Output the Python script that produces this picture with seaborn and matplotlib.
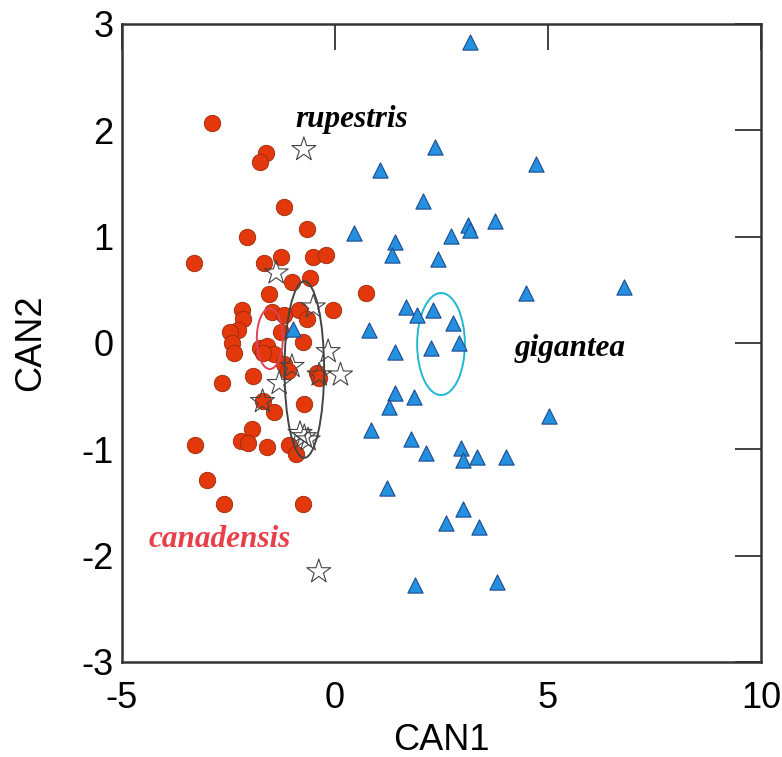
import pandas as pd
import seaborn as sns
import matplotlib.pyplot as plt
from matplotlib.patches import Ellipse

# canonical scores
can_x = [-2.88, -1.63, -1.77, -1.20, -0.66, -2.07, -3.32, -1.67, -1.27, -0.52, -0.20, -0.59, -1.00,
         0.73, -1.56, -2.19, -2.15, -1.48, -1.19, -0.84, -0.66, -0.05, -2.27, -2.46, -1.27, -0.74,
         -2.42, -1.76, -1.60, -2.37, -1.42, -1.70, -1.19, -1.11, -0.42, -0.38, -1.93, -2.66, -1.70,
         -1.42, -0.72, -1.95, -2.21, -2.03, -1.60, -1.09, -0.92, -3.28, -3.00, -2.61, -0.76]
can_y = [2.07, 1.79, 1.70, 1.28, 1.07, 1.00, 0.75, 0.75, 0.81, 0.81, 0.83, 0.61, 0.57,
         0.47, 0.46, 0.31, 0.23, 0.29, 0.26, 0.31, 0.23, 0.31, 0.12, 0.10, 0.10, 0.01,
         0.00, -0.05, -0.03, -0.09, -0.10, -0.09, -0.20, -0.26, -0.28, -0.33, -0.31, -0.38, -0.55,
         -0.65, -0.57, -0.81, -0.92, -0.94, -0.98, -0.96, -1.04, -0.96, -1.29, -1.51, -1.51]

rup_x = [-0.73, -1.38, -0.51, -0.16, -1.01, -1.31, -0.37, 0.13, -1.70, -0.82, -0.63, -0.72, -0.38]
rup_y = [1.82, 0.66, 0.34, -0.08, -0.22, -0.38, -0.30, -0.30, -0.55, -0.85, -0.91, -0.88, -2.15]

gig_x = [3.17, 2.35, 1.06, 4.73, 2.07, 0.45, 1.42, 1.35, 2.72, 3.13, 3.17, 3.75, 2.43, 4.48,
         1.66, 1.92, 2.30, 0.79, 2.78, 1.42, 2.26, 2.92, 1.41, 1.85, 1.27, 5.02, 0.85, 1.78,
         2.14, 2.95, 3.01, 3.34, 4.01, 1.23, 3.00, 2.61, 3.38, 1.89, 3.81, 6.78, -0.98]
gig_y = [2.83, 1.84, 1.63, 1.68, 1.34, 1.03, 0.95, 0.83, 1.01, 1.11, 1.06, 1.15, 0.79, 0.47,
         0.34, 0.26, 0.31, 0.12, 0.19, -0.08, -0.05, 0.00, -0.47, -0.51, -0.60, -0.69, -0.82, -0.90,
         -1.03, -0.99, -1.10, -1.07, -1.07, -1.36, -1.56, -1.69, -1.73, -2.28, -2.25, 0.53, 0.13]

# group centroid ellipses: center x, center y, width, height
ell_can = (-1.53, 0.04, 0.61, 0.57)
ell_rup = (-0.72, -0.25, 0.93, 1.66)
ell_gig = (2.49, -0.01, 1.12, 0.96)

df_can = pd.DataFrame({'CAN1': can_x, 'CAN2': can_y})
df_rup = pd.DataFrame({'CAN1': rup_x, 'CAN2': rup_y})
df_gig = pd.DataFrame({'CAN1': gig_x, 'CAN2': gig_y})

sns.set_style("white")
plt.rcParams['font.family'] = ['Liberation Sans', 'DejaVu Sans']
plt.rcParams['axes.unicode_minus'] = False
plt.rcParams['text.color'] = 'black'
plt.rcParams['axes.labelcolor'] = 'black'
plt.rcParams['xtick.labelcolor'] = 'black'
plt.rcParams['ytick.labelcolor'] = 'black'

fig = plt.figure(figsize=(7.82, 7.57), dpi=100)
ax = fig.add_axes([0.156, 0.1255, 0.817, 0.8428])

sns.scatterplot(data=df_can, x='CAN1', y='CAN2', ax=ax, marker='o', s=140,
                color='#e2380c', edgecolor='#9a2a0a', linewidth=0.6, zorder=2)

for (cx, cy, w, h), col in [(ell_can, '#e0405a'), (ell_rup, '#444444'), (ell_gig, '#20b8d0')]:
    ax.add_patch(Ellipse((cx, cy), w, h, fill=False, edgecolor=col, linewidth=1.4, zorder=3))

sns.scatterplot(data=df_gig, x='CAN1', y='CAN2', ax=ax, marker='^', s=120,
                color='#2490e0', edgecolor='#1f4a90', linewidth=0.8, zorder=4)
sns.scatterplot(data=df_rup, x='CAN1', y='CAN2', ax=ax, marker='*', s=330,
                color='none', edgecolor='#444444', linewidth=0.8, zorder=5)

ax.text(0.40, 2.10, 'rupestris', family='Liberation Serif', style='italic', weight='bold',
        fontsize=22.5, ha='center', va='center', color='black')
ax.text(5.52, -0.05, 'gigantea', family='Liberation Serif', style='italic', weight='bold',
        fontsize=22.5, ha='center', va='center', color='black')
ax.text(-2.70, -1.85, 'canadensis', family='Liberation Serif', style='italic', weight='bold',
        fontsize=22.5, ha='center', va='center', color='#e8404a')

ax.set_xlim(-5, 10)
ax.set_ylim(-3, 3)
ax.set_xticks([-5, 0, 5, 10])
ax.set_yticks([-3, -2, -1, 0, 1, 2, 3])
ax.set_xlabel('CAN1', fontsize=26, labelpad=5)
ax.set_ylabel('CAN2', fontsize=26, labelpad=24)
ax.tick_params(direction='in', length=19, width=1.3, labelsize=26, top=True, right=True,
               color='#333333')
ax.tick_params(axis='x', pad=14)
ax.tick_params(axis='y', pad=6)
for sp in ax.spines.values():
    sp.set_color('#333333')
    sp.set_linewidth(1.8)

fig.savefig('out.png', dpi=100)
